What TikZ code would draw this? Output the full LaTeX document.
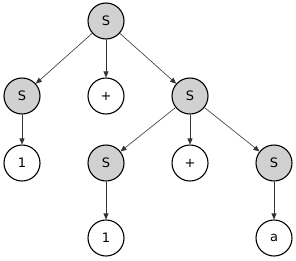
\documentclass[tikz,border=0pt]{standalone}
\usepackage{fontspec}
\setmainfont{DejaVu Sans}
\usetikzlibrary{arrows.meta,positioning}

\begin{document}
\begin{tikzpicture}[
    x=1pt,y=-1pt,
    font=\fontsize{13}{15}\selectfont,
    sym/.style={draw,circle,line width=1.1pt,minimum size=36pt,inner sep=0pt},
    nonterm/.style={sym,fill=black!18},
    term/.style={sym,fill=white},
    arr/.style={-{Triangle[length=6pt,width=5pt]},line width=0.6pt,black!80}
]
\useasboundingbox (0,0) rectangle (296,260);
% tree levels
\node[nonterm] (root) at (106,21) {S};
\node[nonterm] (left) at (22,96) {S};
\node[term] (plus1) at (106,96) {+};
\node[nonterm] (right) at (190,96) {S};
\node[term] (one1) at (22,163) {1};
\node[nonterm] (rleft) at (106,163) {S};
\node[term] (plus2) at (190,163) {+};
\node[nonterm] (rright) at (274,163) {S};
\node[term] (one2) at (106,238) {1};
\node[term] (a) at (274,238) {a};
% edges
\foreach \from/\to in {root/left,root/plus1,root/right,left/one1,
    right/rleft,right/plus2,right/rright,rleft/one2,rright/a}
  \draw[arr] (\from) -- (\to);
\end{tikzpicture}
\end{document}
